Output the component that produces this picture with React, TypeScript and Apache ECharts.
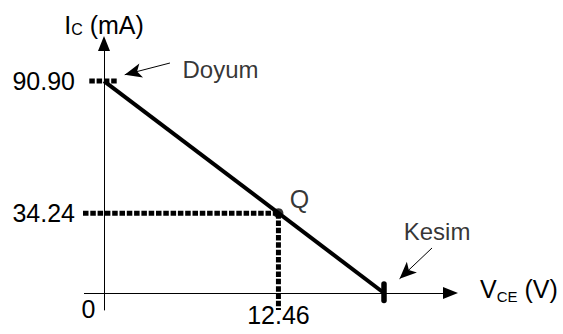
import React, { useEffect, useRef } from "react";
import * as echarts from "echarts";

// ---- data ----
const vceTicks = [0, 12.46]; // V
const icTicks = [34.24, 90.9]; // mA
const vcc = 20; // cut-off (Kesim) voltage, V
const icSat = 90.9; // saturation (Doyum) current, mA
const qV = 12.46;
const qI = 34.24;
const loadLineV = [0, vcc];
const loadLineI = [icSat, 0];
const kesimMarkI = [3.8, -3.2];
const doyumMarkV = [-1.05, 1.0];
const textLabels = ["Doyum", "Kesim"];
const textV = [8.32, 23.79];
const textI = [96.05, 26.16];
const arrowTailV = [4.71, 23.43];
const arrowTailI = [98.63, 19.3];
const arrowHeadV = [1.48, 21.11];
const arrowHeadI = [93.6, 6.09];

const FONT = "'Liberation Sans', Arial, Helvetica, sans-serif";
const X_MIN = -1.4;
const X_MAX = 24.75;
const Y_MIN = -7.3;
const Y_MAX = 107;

export default function App() {
  const ref = useRef<HTMLDivElement>(null);
  useEffect(() => {
    document.body.style.margin = "0";
    if (!ref.current) return;
    const chart = echarts.init(ref.current, null, { renderer: "svg" });
    const dashStyle = { color: "#000", width: 5, type: [5.5, 1.8] as number[], cap: "butt" as const };
    const option: any = {
      animation: false,
      backgroundColor: "#fff",
      textStyle: { fontFamily: FONT, color: "#000" },
      grid: {
        left: 84.4,
        right: 112.5,
        top: 43.5,
        bottom: 24,
        containLabel: false,
        outerBoundsMode: "none",
      },
      xAxis: {
        type: "value",
        min: X_MIN,
        max: X_MAX,
        name: "{a|V}{s|CE}{a| (V)}",
        nameLocation: "end",
        nameGap: 29.5,
        nameTextStyle: {
          align: "left",
          verticalAlign: "middle",
          padding: [0, 0, 9, 0],
          rich: {
            a: { fontFamily: FONT, fontSize: 25, lineHeight: 24, verticalAlign: "top", color: "#000" },
            s: { fontFamily: FONT, fontSize: 15, lineHeight: 15, verticalAlign: "top", padding: [12.5, 0, 0, 0], color: "#000" },
          },
        },
        axisLine: {
          onZero: true,
          symbol: ["none", "triangle"],
          symbolSize: [12, 15],
          lineStyle: { color: "#000", width: 1 },
        },
        axisTick: { show: false },
        splitLine: { show: false },
        axisLabel: {
          customValues: vceTicks,
          margin: -13.5,
          formatter: (v: number) => (v === 0 ? "{z|0}" : "{b|" + v.toFixed(2) + "}"),
          rich: {
            z: { fontFamily: FONT, fontSize: 25, lineHeight: 24, padding: [0, 31, 0, 0], color: "#000" },
            b: { fontFamily: FONT, fontSize: 25, lineHeight: 37, color: "#000" },
          },
        },
      },
      yAxis: {
        type: "value",
        min: Y_MIN,
        max: Y_MAX,
        name: "{a|I}{s|C}{a| (mA)}",
        nameLocation: "end",
        nameGap: 7,
        nameTextStyle: {
          align: "center",
          verticalAlign: "bottom",
          rich: {
            a: { fontFamily: FONT, fontSize: 25, lineHeight: 24, verticalAlign: "top", color: "#000" },
            s: { fontFamily: FONT, fontSize: 16, lineHeight: 16, verticalAlign: "top", padding: [8.5, 0, 0, 0], color: "#000" },
          },
        },
        axisLine: {
          onZero: true,
          symbol: ["none", "triangle"],
          symbolSize: [12, 15],
          lineStyle: { color: "#000", width: 1 },
        },
        axisTick: { show: false },
        splitLine: { show: false },
        axisLabel: {
          customValues: icTicks,
          margin: 9.4,
          fontFamily: FONT,
          fontSize: 25,
          color: "#000",
          formatter: (v: number) => v.toFixed(2),
        },
      },
      series: [
        {
          name: "load",
          type: "line",
          data: loadLineV.map((v, i) => [v, loadLineI[i]]),
          symbol: "none",
          clip: false,
          lineStyle: { color: "#000", width: 4 },
          z: 3,
          markLine: {
            silent: true,
            symbol: ["none", "arrow"],
            symbolSize: [11, 17],
            label: { show: false },
            lineStyle: { color: "#000", width: 1, type: "solid" },
            data: arrowTailV.map((v, i) => [
              { coord: [v, arrowTailI[i]] },
              { coord: [arrowHeadV[i], arrowHeadI[i]] },
            ]),
          },
        },
        {
          name: "qH",
          type: "line",
          data: [
            [X_MIN - 0.1, qI],
            [qV, qI],
          ],
          symbol: "none",
          clip: false,
          lineStyle: dashStyle,
          z: 2,
        },
        {
          name: "qV",
          type: "line",
          data: [
            [qV, qI],
            [qV, Y_MIN],
          ],
          symbol: "none",
          clip: false,
          lineStyle: dashStyle,
          z: 2,
        },
        {
          name: "doyum",
          type: "line",
          data: doyumMarkV.map((v) => [v, icSat]),
          symbol: "none",
          clip: false,
          lineStyle: dashStyle,
          z: 2,
        },
        {
          name: "kesim",
          type: "line",
          data: kesimMarkI.map((i) => [vcc, i]),
          symbol: "none",
          clip: false,
          lineStyle: { color: "#000", width: 5.5, cap: "round" },
          z: 4,
        },
        {
          name: "Q",
          type: "scatter",
          data: [[qV, qI]],
          symbol: "circle",
          symbolSize: 10,
          itemStyle: { color: "#000" },
          z: 5,
          label: {
            show: true,
            position: "inside",
            offset: [21, -14],
            formatter: "Q",
            fontFamily: FONT,
            fontSize: 25,
            color: "#000",
          },
        },
        {
          name: "texts",
          type: "scatter",
          data: textLabels.map((t, i) => [textV[i], textI[i], t]),
          symbol: "circle",
          symbolSize: 1,
          itemStyle: { color: "transparent" },
          label: {
            show: true,
            position: "inside",
            formatter: (p: any) => p.data[2],
            fontFamily: FONT,
            fontSize: 24,
            color: "#000",
          },
        },
      ],
    };
    chart.setOption(option);
    return () => chart.dispose();
  }, []);
  return <div ref={ref} style={{ width: 563, height: 334 }} />;
}
